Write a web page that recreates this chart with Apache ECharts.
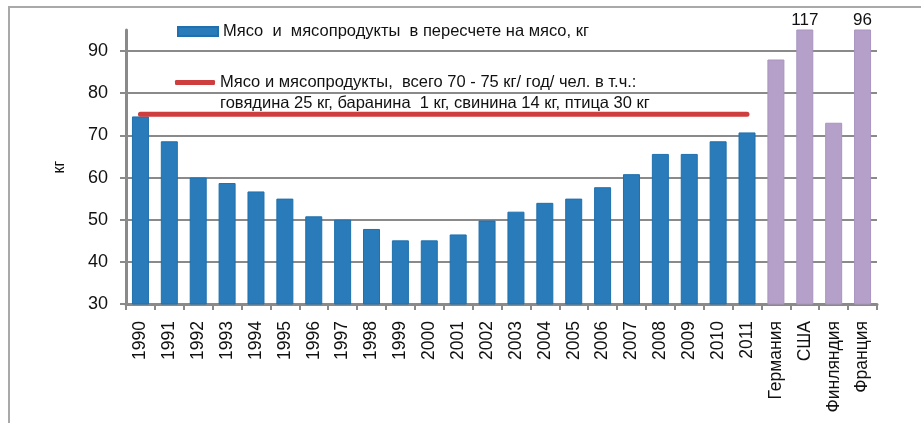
<!DOCTYPE html>
<html>
<head>
<meta charset="utf-8">
<script src="https://cdn.jsdelivr.net/npm/echarts@6/dist/echarts.min.js"></script>
<style>
  html, body { margin: 0; padding: 0; background: #fff; }
  #chart { width: 921px; height: 423px; }
</style>
</head>
<body>
<div id="chart"></div>
<script>
// годы и потребление мяса, кг
var years = ['1990','1991','1992','1993','1994','1995','1996','1997','1998','1999','2000',
             '2001','2002','2003','2004','2005','2006','2007','2008','2009','2010','2011'];
var yearValues = [74.5, 68.6, 60, 58.7, 56.7, 55, 50.8, 50, 47.8, 45.1, 45.1,
                  46.5, 49.8, 51.9, 54, 55, 57.7, 60.8, 65.6, 65.6, 68.6, 70.7];
// страны для сравнения
var countries = ['Германия','США','Финляндия','Франция'];
var countryValues = [88, 117, 73, 96];
// норма 75 кг (линия)
var normValues = [75,75,75,75,75,75,75,75,75,75,75,75,75,75,75,75,75,75,75,75,75,75];

var barName = 'Мясо  и  мясопродукты  в пересчете на мясо, кг';
var lineName = 'Мясо и мясопродукты,  всего 70 - 75 кг/ год/ чел. в т.ч.:';
var lineName2 = 'говядина 25 кг, баранина  1 кг, свинина 14 кг, птица 30 кг';

var FONT = 'Liberation Sans';
var blue = '#2a7bb9';
var purple = '#b4a0c8';
var red = '#cf3e3e';

var myChart = echarts.init(document.getElementById('chart'));

var categories = years.concat(countries);
var barData = [];
for (var i = 0; i < yearValues.length; i++) {
    barData.push({ value: yearValues[i] });
}
for (var j = 0; j < countryValues.length; j++) {
    var item = { value: countryValues[j], itemStyle: { color: purple, borderColor: '#a994c0' } };
    // значения выше оси подписаны
    if (countryValues[j] > 95) {
        item.label = { show: true, position: 'top', distance: 1, color: '#111',
                       fontFamily: FONT, fontSize: 17, formatter: '{c}' };
    }
    barData.push(item);
}

var option = {
    animation: false,
    backgroundColor: '#fff',
    textStyle: { fontFamily: FONT },
    grid: { left: 126, right: 44, top: 30, bottom: 119 },
    legend: [
        {
            data: [{ name: barName, icon: 'rect' }],
            left: 177, top: 23, padding: 0,
            itemWidth: 40, itemHeight: 9,
            textStyle: { fontFamily: FONT, fontSize: 16.5, color: '#111' }
        },
        {
            data: [{ name: lineName, icon: 'roundRect' }],
            left: 175, top: 74, padding: 0,
            itemWidth: 40, itemHeight: 5,
            textStyle: { fontFamily: FONT, fontSize: 16.5, color: '#111' }
        }
    ],
    graphic: [
        {
            type: 'polyline',
            shape: { points: [[9, 423], [9, 7], [921, 7]] },
            style: { stroke: '#a9a9a9', lineWidth: 2, fill: null },
            silent: true
        },
        {
            type: 'text',
            left: 220, top: 95,
            style: { text: lineName2, fontFamily: FONT, fontSize: 16.5, fill: '#111' }
        }
    ],
    xAxis: {
        type: 'category',
        data: categories,
        axisLine: { lineStyle: { color: '#8a8a8a', width: 3 } },
        axisTick: { show: true, length: 6, lineStyle: { color: '#8a8a8a', width: 2 } },
        axisLabel: { interval: 0, rotate: 90, margin: 17, fontFamily: FONT, fontSize: 17.5, color: '#111' }
    },
    yAxis: {
        type: 'value',
        min: 30, max: 95, interval: 10,
        name: 'кг',
        nameLocation: 'middle',
        nameRotate: 90,
        nameGap: 58,
        nameTextStyle: { fontFamily: FONT, fontSize: 16, color: '#111' },
        axisLine: { show: true, lineStyle: { color: '#8a8a8a', width: 3 } },
        axisTick: { show: true, length: 6, lineStyle: { color: '#8a8a8a', width: 2 } },
        axisLabel: { margin: 18, showMaxLabel: false, fontFamily: FONT, fontSize: 18, color: '#111' },
        splitLine: { show: true, showMaxLine: false, lineStyle: { color: '#8a8a8a', width: 2 } }
    },
    series: [
        {
            name: barName,
            type: 'bar',
            barWidth: 17,
            itemStyle: { color: blue, borderColor: '#1f70ad', borderWidth: 1 },
            data: barData
        },
        {
            name: lineName,
            type: 'line',
            symbol: 'none',
            showSymbol: false,
            z: 5,
            lineStyle: { color: red, width: 5, cap: 'round' },
            itemStyle: { color: red },
            data: normValues
        }
    ]
};

myChart.setOption(option);
</script>
</body>
</html>
